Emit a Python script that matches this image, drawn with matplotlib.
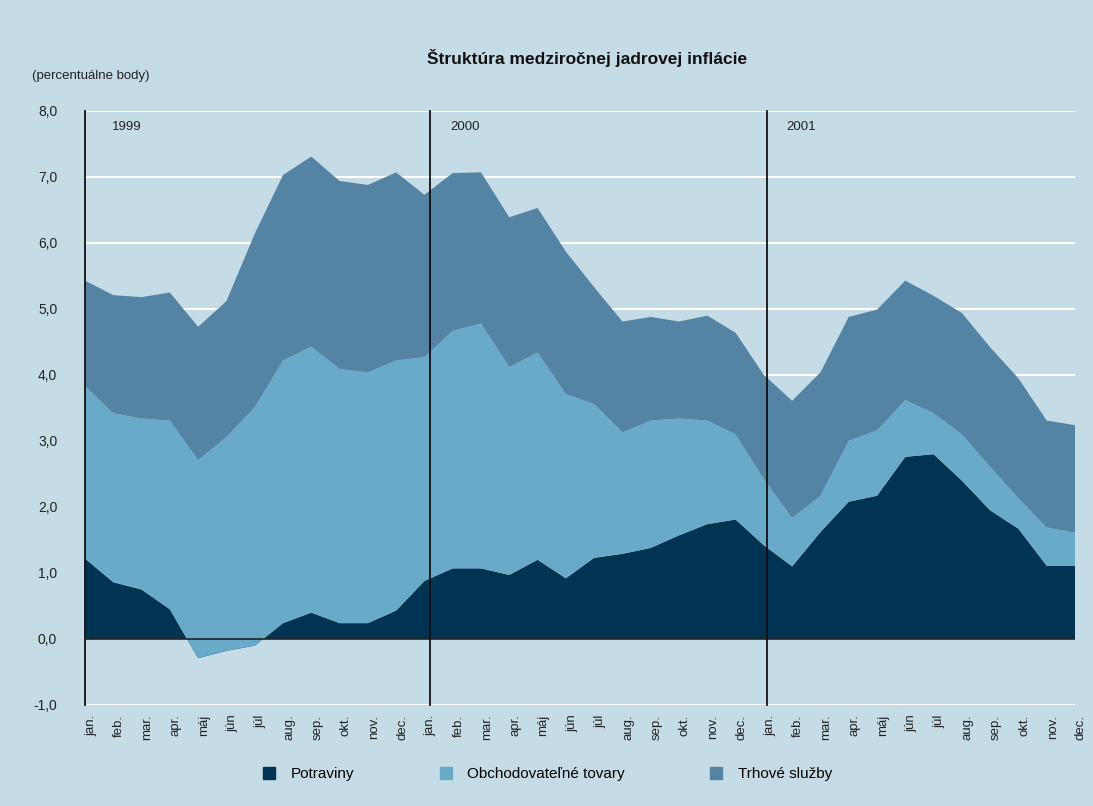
import matplotlib.pyplot as plt
from matplotlib.lines import Line2D

plt.rcParams['font.family'] = ['Liberation Sans', 'DejaVu Sans']

mesiace = ['jan.', 'feb.', 'mar.', 'apr.', 'máj', 'jún', 'júl', 'aug.',
           'sep.', 'okt.', 'nov.', 'dec.'] * 3
roky = ['1999', '2000', '2001']

potraviny = [1.22, 0.86, 0.75, 0.45, -0.29, -0.18, -0.10, 0.24, 0.40, 0.24, 0.24, 0.43,
             0.88, 1.07, 1.07, 0.97, 1.20, 0.92, 1.23, 1.29, 1.38, 1.57, 1.74, 1.81,
             1.42, 1.10, 1.62, 2.08, 2.17, 2.76, 2.80, 2.40, 1.95, 1.67, 1.11, 1.11]
obchodovatelne = [2.61, 2.56, 2.59, 2.86, 3.00, 3.24, 3.61, 3.98, 4.03, 3.85, 3.80, 3.79,
                  3.39, 3.60, 3.71, 3.15, 3.14, 2.79, 2.33, 1.84, 1.93, 1.77, 1.57, 1.29,
                  1.00, 0.73, 0.55, 0.92, 0.99, 0.86, 0.62, 0.70, 0.66, 0.46, 0.58, 0.50]
trhove_sluzby = [1.60, 1.79, 1.84, 1.94, 2.02, 2.06, 2.63, 2.81, 2.88, 2.85, 2.84, 2.85,
                 2.46, 2.39, 2.29, 2.27, 2.19, 2.16, 1.77, 1.68, 1.57, 1.47, 1.59, 1.54,
                 1.58, 1.78, 1.87, 1.88, 1.83, 1.81, 1.78, 1.84, 1.81, 1.82, 1.62, 1.63]

nazvy = ['Potraviny', 'Obchodovateľné tovary', 'Trhové služby']
farby = ['#003452', '#69aac8', '#5583a3']
pozadie = '#c5dce7'

x = list(range(len(mesiace)))

fig = plt.figure(figsize=(10.93, 8.06), dpi=100, facecolor=pozadie)
ax = fig.add_axes([85 / 1093, 1 - 705 / 806, 990 / 1093, 594 / 806])
ax.set_facecolor(pozadie)

ax.stackplot(x, potraviny, obchodovatelne, trhove_sluzby, colors=farby,
             linewidth=0, zorder=2)

ax.set_xlim(0, len(x) - 1)
ax.set_ylim(-1, 8)
ax.set_yticks(range(-1, 9))
ax.set_yticklabels([f'{v},0' for v in range(-1, 9)], fontsize=10, color='#222222')
ax.grid(axis='y', color='white', linewidth=1.5, zorder=1)
ax.axhline(0, color='#222222', linewidth=1.2, zorder=3)

# zvislé čiary oddeľujúce roky + popisky rokov
for poz, poz_txt, rok in zip([0, 12.2, 24.1], [0.95, 12.9, 24.8], roky):
    ax.axvline(poz, color='#111111', linewidth=1.3, zorder=4, clip_on=False)
    ax.text(poz_txt, 7.75, rok, fontsize=9.5, color='#222222', va='center')

ax.set_xticks(x)
ax.set_xticklabels(mesiace, rotation=90, fontsize=9.5, color='#222222',
                   va='top', ha='left')
ax.tick_params(axis='both', length=0)
ax.tick_params(axis='y', pad=20)
ax.tick_params(axis='x', pad=7)
for s in ax.spines.values():
    s.set_visible(False)

fig.text(587 / 1093, 1 - 58 / 806, 'Štruktúra medziročnej jadrovej inflácie',
         ha='center', va='center', fontsize=12.5, fontweight='bold', color='#111111')
fig.text(32 / 1093, 1 - 76 / 806, '(percentuálne body)', ha='left', va='center',
         fontsize=9.5, color='#222222')

handles = [Line2D([], [], marker='s', linestyle='', markersize=8, color=f) for f in farby]
fig.legend(handles, nazvy, loc='center', bbox_to_anchor=(543 / 1093, 1 - 774 / 806),
           ncol=3, frameon=False, fontsize=11, columnspacing=5.0, handletextpad=0.4)

fig.savefig('out.png', dpi=100, facecolor=pozadie)
